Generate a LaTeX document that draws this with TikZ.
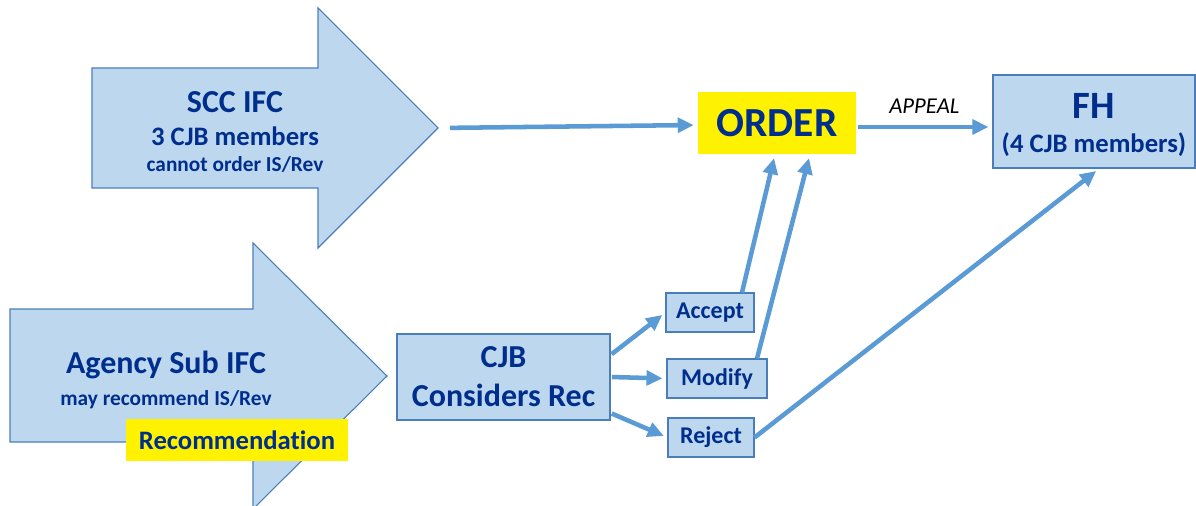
\documentclass[tikz,border=0pt]{standalone}
\usepackage{fontspec}
\setmainfont{Carlito}
\usetikzlibrary{arrows.meta,positioning}

\definecolor{hellblau}{RGB}{189,215,238}
\definecolor{rand}{RGB}{74,126,187}
\definecolor{linie}{RGB}{91,155,213}
\definecolor{schrift}{RGB}{0,46,140}

\tikzset{
    kasten/.style={rectangle, fill=hellblau, draw=rand, line width=0.8pt, inner sep=0pt,
        text=schrift, font=\bfseries, align=center},
    gelb/.style={rectangle, fill=yellow, inner sep=0pt, text=schrift, font=\bfseries},
    grosspfeil/.style={fill=hellblau, draw=rand, line width=0.8pt, line join=miter},
    pfeil/.style={draw=linie, line width=3.4pt, -{Triangle[length=12pt,width=11pt]},
        shorten <=1pt, shorten >=3pt}
}

\begin{document}
\begin{tikzpicture}[x=0.75pt, y=-0.75pt]
    \useasboundingbox[fill=white] (0,0) rectangle (1196,506);
    % grosse Pfeile
    \draw[grosspfeil] (92,68) -- (318,68) -- (318,8) -- (438,128) -- (318,248)
        -- (318,188) -- (92,188) -- cycle;
    \draw[grosspfeil] (10,309) -- (253,309) -- (253,243) -- (387,376) -- (253,509)
        -- (253,442) -- (10,442) -- cycle;
    \coordinate (SCCspitze) at (438,128);
    \path node[text=schrift, font=\bfseries\fontsize{16}{20}\selectfont, align=center] (SCC) at (235,132)
            {{\fontsize{24}{20}\selectfont SCC IFC}\\[4.75pt]
             {\fontsize{20}{20}\selectfont 3 CJB members}\\
             cannot order IS/Rev}
        node[text=schrift, font=\bfseries\fontsize{16}{20}\selectfont, align=center] (AGS) at (166,380)
            {{\fontsize{24}{20}\selectfont Agency Sub IFC}\\[3.5pt]
             may recommend IS/Rev}
        node[gelb, minimum width=166.5pt, minimum height=31.5pt,
            font=\bfseries\fontsize{20}{22}\selectfont\addfontfeature{Ligatures=NoCommon}]
            (REC) at (237,440) {Recommendation};
    % Kaesten
    \path node[kasten, minimum width=159.75pt, minimum height=64.5pt, font=\bfseries\fontsize{24}{24}\selectfont]
            (CJB) at (503.5,377) {CJB\\[5.25pt]Considers Rec}
        node[kasten, minimum width=66pt, minimum height=29.25pt, font=\bfseries\fontsize{18}{20}\selectfont]
            (ACC) at (710,312.5) {Accept}
        node[kasten, minimum width=75pt, minimum height=29.25pt, font=\bfseries\fontsize{18}{20}\selectfont]
            (MOD) at (717,378.5) {Modify}
        node[kasten, minimum width=64.5pt, minimum height=29.25pt, font=\bfseries\fontsize{18}{20}\selectfont]
            (REJ) at (711,437.5) {Reject}
        node[gelb, minimum width=118.5pt, minimum height=46.5pt, font=\bfseries\fontsize{31}{36}\selectfont]
            (ORD) at (777,123) {ORDER}
        node[kasten, minimum width=151.5pt, minimum height=69.75pt, font=\bfseries\fontsize{20}{24}\selectfont]
            (FH) at (1094,121.5) {\rule{0pt}{24.7pt}{\fontsize{29}{24}\selectfont FH}\\[1.5pt](4 CJB members)};
    % Verbindungen
    \draw[pfeil, shorten <=9pt] (SCCspitze) -- ([yshift=-1.5pt]ORD.west);
    \draw[pfeil] ([yshift=-3pt]ORD.east) -- node[above=5pt, text=black, font=\itshape\fontsize{17}{18}\selectfont] {APPEAL}
        ([yshift=-3pt]ORD.east -| FH.west);
    \draw[pfeil] ([yshift=16.5pt]CJB.east) -- (ACC.west);
    \draw[pfeil] (CJB.east) -- (MOD.west);
    \draw[pfeil] ([yshift=-27pt]CJB.east) -- (REJ.west);
    \draw[pfeil, shorten <=0pt] ([xshift=24pt]ACC.north) -- ([xshift=-1.5pt]ORD.south);
    \draw[pfeil, shorten <=0pt] ([xshift=30pt]MOD.north) -- ([xshift=24.75pt]ORD.south);
    \draw[pfeil, shorten <=0pt] (REJ.east) -- ([xshift=4pt]FH.south);
\end{tikzpicture}
\end{document}
